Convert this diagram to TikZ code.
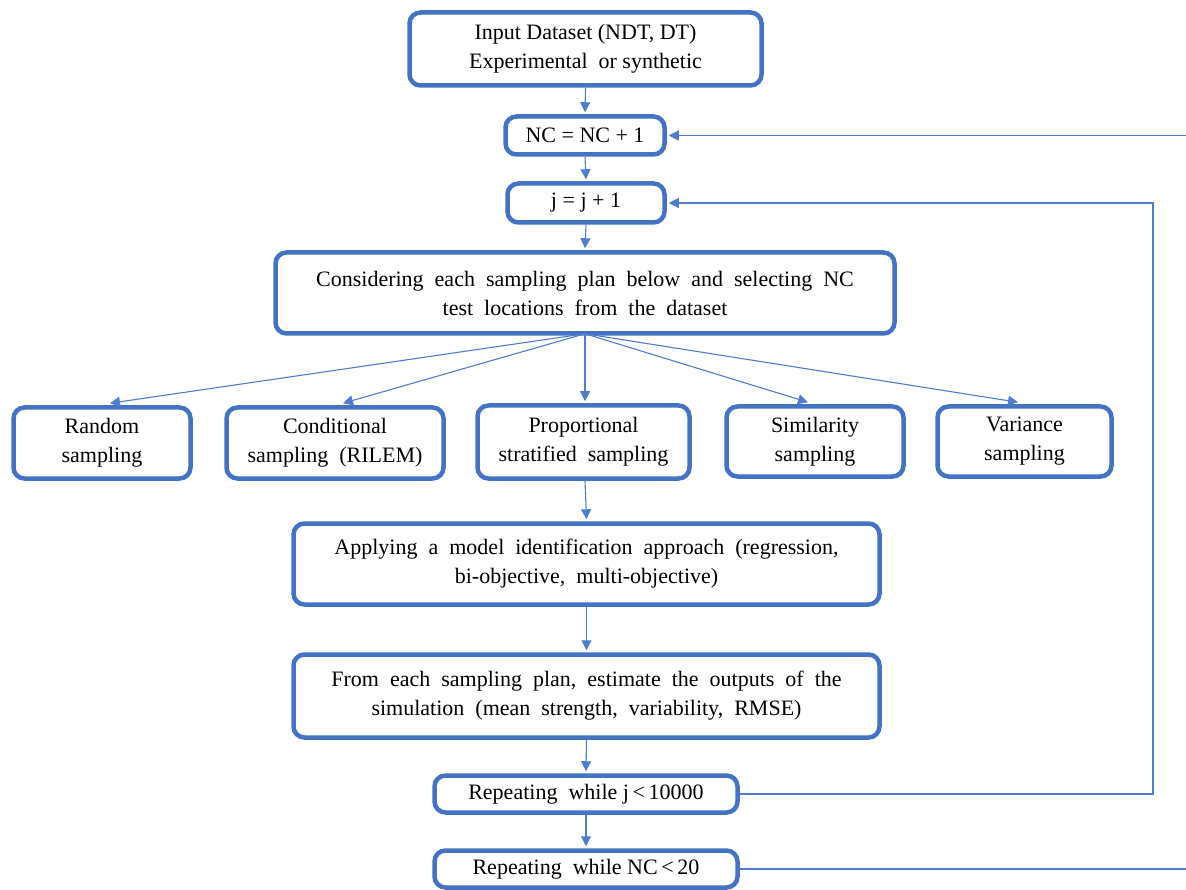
\documentclass[tikz,border=0pt]{standalone}
\usepackage{fontspec}
\setmainfont{Liberation Serif}
\newfontfamily\lmfont{Latin Modern Roman}
\usetikzlibrary{arrows.meta}
\definecolor{boxblue}{RGB}{68,114,196}
\definecolor{lineblue}{RGB}{80,125,205}
\begin{document}
\begin{tikzpicture}[x=1pt,y=-1pt,
  box/.style={draw=boxblue, line width=4.5pt, rounded corners=11pt, fill=white,
    align=center, inner sep=2pt, font=\rmfamily\fontsize{22}{29}\selectfont},
  arr/.style={draw=lineblue, line width=1.1pt, -{Triangle[length=10pt,width=10pt]}},
  ln/.style={draw=lineblue, line width=1.1pt}]
\useasboundingbox (0,0) rectangle (1186,890);
\clip (0,0) rectangle (1186,890);

\node[box, minimum width=352pt, minimum height=73pt] (input) at (585.5,49) {Input Dataset (NDT, DT)\\Experimental\ \ or synthetic};
\node[box, minimum width=159pt, minimum height=38pt] (nc) at (585,135.5) {NC = NC + 1};
\node[box, minimum width=157pt, minimum height=39pt] (jj) at (586,203) {j = j + 1};
\node[box, minimum width=619pt, minimum height=81pt] (cons) at (585,293) {Considering\ \ each\ \ sampling\ \ plan\ \ below\ \ and\ \ selecting\ \ NC\\test\ \ locations\ \ from\ \ the\ \ dataset};
\node[box, minimum width=177pt, minimum height=71pt] (rand) at (102,443) {Random\\sampling};
\node[box, minimum width=217pt, minimum height=71pt] (cond) at (335,443) {Conditional\\sampling\ \ (RILEM)};
\node[box, minimum width=212pt, minimum height=73pt] (prop) at (583.5,442) {Proportional\\stratified\ \ sampling};
\node[box, minimum width=177pt, minimum height=70pt] (sim) at (815,441.5) {Similarity\\sampling};
\node[box, minimum width=174pt, minimum height=70pt] (var) at (1024.5,441.5) {Variance\\sampling};
\node[box, minimum width=586pt, minimum height=81pt] (appl) at (586.5,564) {Applying\ \ a\ \ model\ \ identification\ \ approach\ \ (regression,\\bi-objective,\ \ multi-objective)};
\node[box, minimum width=586pt, minimum height=83pt] (from) at (586.5,696) {From\ \ each\ \ sampling\ \ plan,\ \ estimate\ \ the\ \ outputs\ \ of\ \ the\\simulation\ \ (mean\ \ strength,\ \ variability,\ \ RMSE)};
\node[box, minimum width=303pt, minimum height=37pt] (repj) at (586,794) {Repeating\ \ while\ j\,<\,10000};
\node[box, minimum width=303pt, minimum height=37pt] (repnc) at (586,869) {Repeating\ \ while\ NC\,<\,20};

\draw[arr] (input.south) -- ([yshift=2pt]nc.north);
\draw[arr] (nc.south) -- ([yshift=2pt]jj.north);
\draw[arr] (jj.south) -- ([yshift=2pt]cons.north);

\coordinate (fan) at ([yshift=2pt]cons.south);
\draw[arr] (fan) -- ([xshift=8pt,yshift=2pt]rand.north);
\draw[arr] (fan) -- ([xshift=8pt,yshift=2pt]cond.north);
\draw[arr] (fan) -- ([xshift=1.5pt,yshift=2pt]prop.north);
\draw[arr] (fan) -- ([xshift=-7pt,yshift=2pt]sim.north);
\draw[arr] (fan) -- ([xshift=-6.5pt,yshift=2pt]var.north);

\draw[arr] ([xshift=1.5pt]prop.south) -- ([yshift=2pt]appl.north);
\draw[arr] (appl.south) -- ([yshift=2pt]from.north);
\draw[arr] (from.south) -- ([yshift=2pt]repj.north);
\draw[arr] (repj.south) -- ([yshift=2pt]repnc.north);

\coordinate (cj) at (1153,794);
\draw[arr] (repj.east) -- (cj) |- ([xshift=2pt]jj.east);
\coordinate (cnc) at (1200,869);
\draw[arr] (repnc.east) -- (cnc) |- ([xshift=2pt]nc.east);
\end{tikzpicture}
\end{document}
